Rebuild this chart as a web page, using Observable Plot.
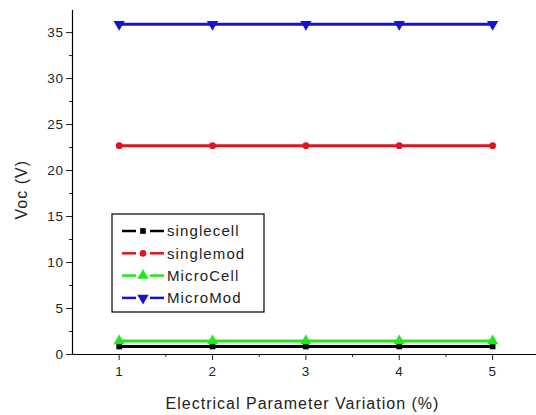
<!DOCTYPE html>
<html>
<head>
<meta charset="utf-8">
<script src="https://cdn.jsdelivr.net/npm/d3@7"></script>
<script src="https://cdn.jsdelivr.net/npm/@observablehq/plot@0.6"></script>
<style>
  html, body { margin: 0; padding: 0; background: #fff; overflow: hidden; }
  #chart svg { display: block; }
  #chart svg text { letter-spacing: 0.6px; }
</style>
</head>
<body>
<div id="chart"></div>
<script>
// Open-circuit voltage vs. electrical parameter variation
const variation = [1, 2, 3, 4, 5];
const singlecell = [0.87, 0.87, 0.87, 0.87, 0.87];
const singlemod = [22.7, 22.7, 22.7, 22.7, 22.7];
const microCell = [1.47, 1.47, 1.47, 1.47, 1.47];
const microMod = [35.9, 35.9, 35.9, 35.9, 35.9];

const seriesNames = ["singlecell", "singlemod", "MicroCell", "MicroMod"];
const seriesValues = [singlecell, singlemod, microCell, microMod];
const seriesColors = ["#000000", "#e0141e", "#1ee81e", "#1414d2"];
const seriesSymbols = ["square", "circle", "triangle", "triangle"];
const seriesRotate = [0, 0, 0, 180];
const seriesR = [3.2, 3.4, 4.2, 4.2];

const xTicks = [1, 2, 3, 4, 5];
const xMinor = [1.5, 2.5, 3.5, 4.5, 5.5];
const yTicks = [0, 5, 10, 15, 20, 25, 30, 35];
const yMinor = [2.5, 7.5, 12.5, 17.5, 22.5, 27.5, 32.5];

const rows = [];
seriesNames.forEach((name, i) => {
  variation.forEach((v, j) => rows.push({series: name, x: v, y: seriesValues[i][j], i}));
});

const font = "'Liberation Sans', Arial, sans-serif";

const marks = [];
seriesNames.forEach((name, i) => {
  const data = rows.filter(d => d.series === name);
  marks.push(Plot.line(data, {x: "x", y: "y", stroke: seriesColors[i], strokeWidth: 3}));
  marks.push(Plot.dot(data, {
    x: "x", y: "y", symbol: seriesSymbols[i], r: seriesR[i], rotate: seriesRotate[i],
    fill: seriesColors[i], stroke: "none"
  }));
});

const plot = Plot.plot({
  width: 536,
  height: 415,
  marginLeft: 72,
  marginRight: 0,
  marginTop: 10,
  marginBottom: 61,
  style: {fontFamily: font, fontSize: "13.5px", color: "#222", background: "#fff"},
  x: {domain: [0.5, 5.47]},
  y: {domain: [0, 37.4]},
  marks: [
    ...marks,
    Plot.axisX({ticks: xTicks, tickSize: 6, tickPadding: 6, tickFormat: d => String(d), label: null, fontSize: 13.5}),
    Plot.axisX({ticks: xMinor, tickSize: 3, tickFormat: () => "", label: null}),
    Plot.axisY({ticks: yTicks, tickSize: 6, tickPadding: 3, tickFormat: d => String(d), label: null, fontSize: 13.5}),
    Plot.axisY({ticks: yMinor, tickSize: 3, tickFormat: () => "", label: null}),
    Plot.ruleY([0], {stroke: "#000", strokeWidth: 1.2}),
    Plot.ruleX([0.5], {stroke: "#000", strokeWidth: 1.2}),
    Plot.text(["Electrical Parameter Variation (%)"], {
      frameAnchor: "bottom", dy: 54, fontSize: 16, fill: "#222", text: d => d,
      dx: -2
    }),
    Plot.text(["Voc (V)"], {
      frameAnchor: "left", dx: -51, dy: 37, rotate: -90, fontSize: 16, fill: "#222", text: d => d
    })
  ]
});

// Wider letter spacing on the axis titles
d3.select(plot).selectAll("text")
  .filter(function() { return /Electrical|Voc/.test(this.textContent); })
  .style("letter-spacing", "1px");

// Legend box drawn inside the plot's SVG
const svg = d3.select(plot);
const lg = svg.append("g").attr("transform", "translate(112,214)");
lg.append("rect").attr("width", 152).attr("height", 98)
  .attr("fill", "#fff").attr("stroke", "#000").attr("stroke-width", 1.2);
seriesNames.forEach((name, i) => {
  const y = 17 + i * 22.3;
  const row = lg.append("g").attr("transform", `translate(0,${y})`);
  row.append("line").attr("x1", 10).attr("x2", 24).attr("y1", 0).attr("y2", 0)
    .attr("stroke", seriesColors[i]).attr("stroke-width", 2.5);
  row.append("line").attr("x1", 38).attr("x2", 52).attr("y1", 0).attr("y2", 0)
    .attr("stroke", seriesColors[i]).attr("stroke-width", 2.5);
  const sym = {square: d3.symbolSquare, circle: d3.symbolCircle, triangle: d3.symbolTriangle}[seriesSymbols[i]];
  row.append("path")
    .attr("d", d3.symbol(sym, Math.PI * seriesR[i] * seriesR[i])())
    .attr("transform", `translate(31,0) rotate(${seriesRotate[i]})`)
    .attr("fill", seriesColors[i]);
  row.append("text").attr("x", 55).attr("y", 0).attr("dy", "0.35em")
    .attr("text-anchor", "start")
    .attr("font-family", font).attr("font-size", 15)
    .style("letter-spacing", "1.1px")
    .attr("fill", "#222").text(name);
});

document.getElementById("chart").append(plot);
</script>
</body>
</html>
